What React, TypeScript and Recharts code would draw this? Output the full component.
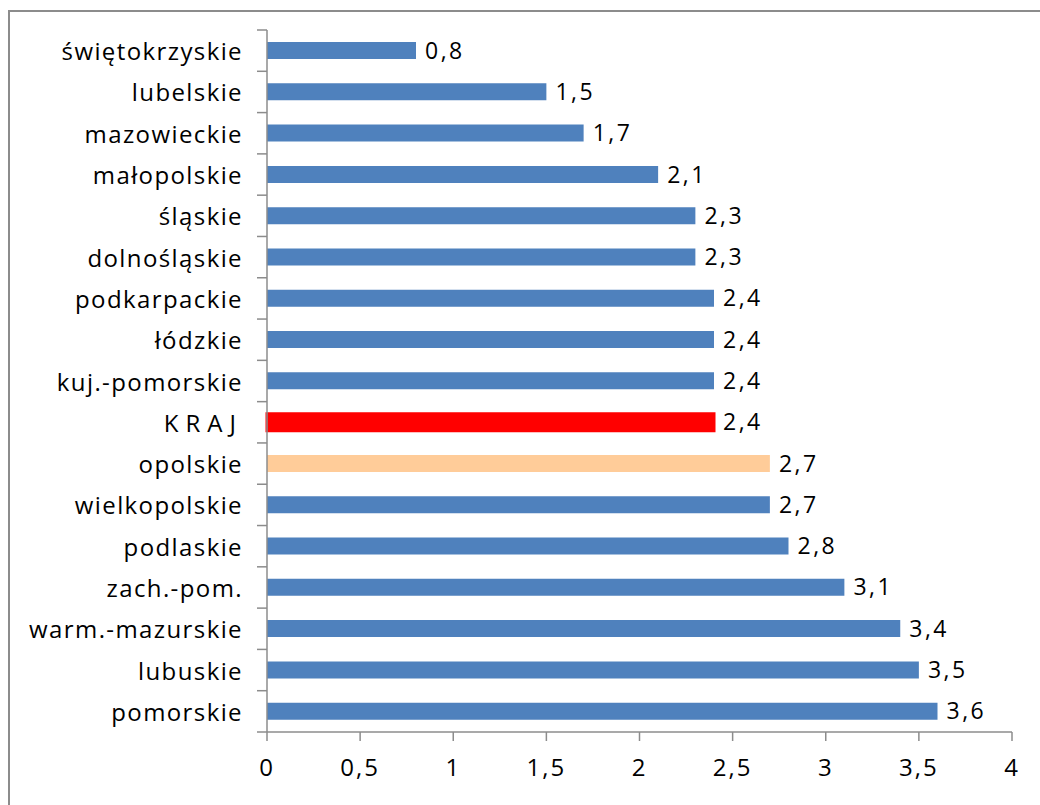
import React from 'react';
import { BarChart, Bar, XAxis, YAxis, Cell, LabelList } from 'recharts';

const regions = [
  'świętokrzyskie', 'lubelskie', 'mazowieckie', 'małopolskie', 'śląskie',
  'dolnośląskie', 'podkarpackie', 'łódzkie', 'kuj.-pomorskie', 'KRAJ',
  'opolskie', 'wielkopolskie', 'podlaskie', 'zach.-pom.', 'warm.-mazurskie',
  'lubuskie', 'pomorskie',
];
const values = [0.8, 1.5, 1.7, 2.1, 2.3, 2.3, 2.4, 2.4, 2.4, 2.4, 2.7, 2.7, 2.8, 3.1, 3.4, 3.5, 3.6];
const xTicks = [0, 0.5, 1, 1.5, 2, 2.5, 3, 3.5, 4];

const barColor = (name: string) => {
  if (name === 'KRAJ') return '#FF0000';
  if (name === 'opolskie') return '#FFCC99';
  return '#4F81BD';
};

const data = regions.map((name, i) => ({ name, value: values[i] }));

const W = 1040;
const H = 805;
const MARGIN = { top: 30, right: 28, bottom: 13, left: 0 };
const Y_WIDTH = 267;
const X_HEIGHT = 60;
const plotH = H - MARGIN.top - MARGIN.bottom - X_HEIGHT;
const band = plotH / regions.length;

const FONT = '"Open Sans", sans-serif';
const fmt = (v: number) => String(v).replace('.', ',');

const YTick = (props: any) => {
  const { x, y, payload, index } = props;
  const top = y - band / 2;
  const isKraj = payload.value === 'KRAJ';
  return (
    <g>
      <line x1={x - 10} x2={x} y1={top} y2={top} stroke="#8c8c8c" strokeWidth={1.5} />
      {index === regions.length - 1 && (
        <line x1={x - 10} x2={x} y1={top + band} y2={top + band} stroke="#8c8c8c" strokeWidth={1.5} />
      )}
      <text
        x={x - 24}
        y={y}
        textAnchor="end"
        dominantBaseline="central"
        fontSize={24}
        fontFamily={FONT}
        fill="#000"
        letterSpacing={isKraj ? 7 : 1.4}
      >
        {payload.value}
      </text>
    </g>
  );
};

const XTick = (props: any) => {
  const { x, y, payload } = props;
  return (
    <text x={x} y={y + 35} textAnchor="middle" fontSize={24} fontFamily={FONT} fill="#000" letterSpacing={2}>
      {fmt(payload.value)}
    </text>
  );
};

export default function App() {
  return (
    <div style={{ position: 'absolute', left: 0, top: 0, width: W, height: H, overflow: 'hidden', background: '#fff' }}>
      <div
        style={{
          position: 'absolute', left: 8, top: 10, width: W + 20, height: H + 20,
          borderLeft: '2px solid #8c8c8c', borderTop: '2px solid #8c8c8c',
        }}
      />
      <BarChart
        width={W}
        height={H}
        data={data}
        layout="vertical"
        margin={MARGIN}
        barCategoryGap={0}
        style={{ position: 'absolute', left: 0, top: 0 }}
      >
        <XAxis
          type="number"
          domain={[0, 4]}
          ticks={xTicks}
          height={X_HEIGHT}
          tickSize={9}
          tickMargin={0}
          tick={<XTick />}
          axisLine={{ stroke: '#8c8c8c', strokeWidth: 1.5 }}
          tickLine={{ stroke: '#8c8c8c', strokeWidth: 1.5 }}
          interval={0}
        />
        <YAxis
          type="category"
          dataKey="name"
          width={Y_WIDTH}
          tickSize={0}
          tickMargin={0}
          tickLine={false}
          tick={<YTick />}
          axisLine={{ stroke: '#8c8c8c', strokeWidth: 1.5 }}
          interval={0}
        />
        <Bar dataKey="value" barSize={17} isAnimationActive={false}>
          {data.map((d, i) => (
            <Cell
              key={`cell-${i}`}
              fill={barColor(d.name)}
              stroke={d.name === 'KRAJ' ? '#FF0000' : 'none'}
              strokeWidth={d.name === 'KRAJ' ? 3 : 0}
            />
          ))}
          <LabelList
            dataKey="value"
            position="right"
            offset={9}
            formatter={(v: any) => fmt(v)}
            style={{ fontSize: 23, fontFamily: FONT, fill: '#000', letterSpacing: 2.5 }}
          />
        </Bar>
      </BarChart>
    </div>
  );
}
